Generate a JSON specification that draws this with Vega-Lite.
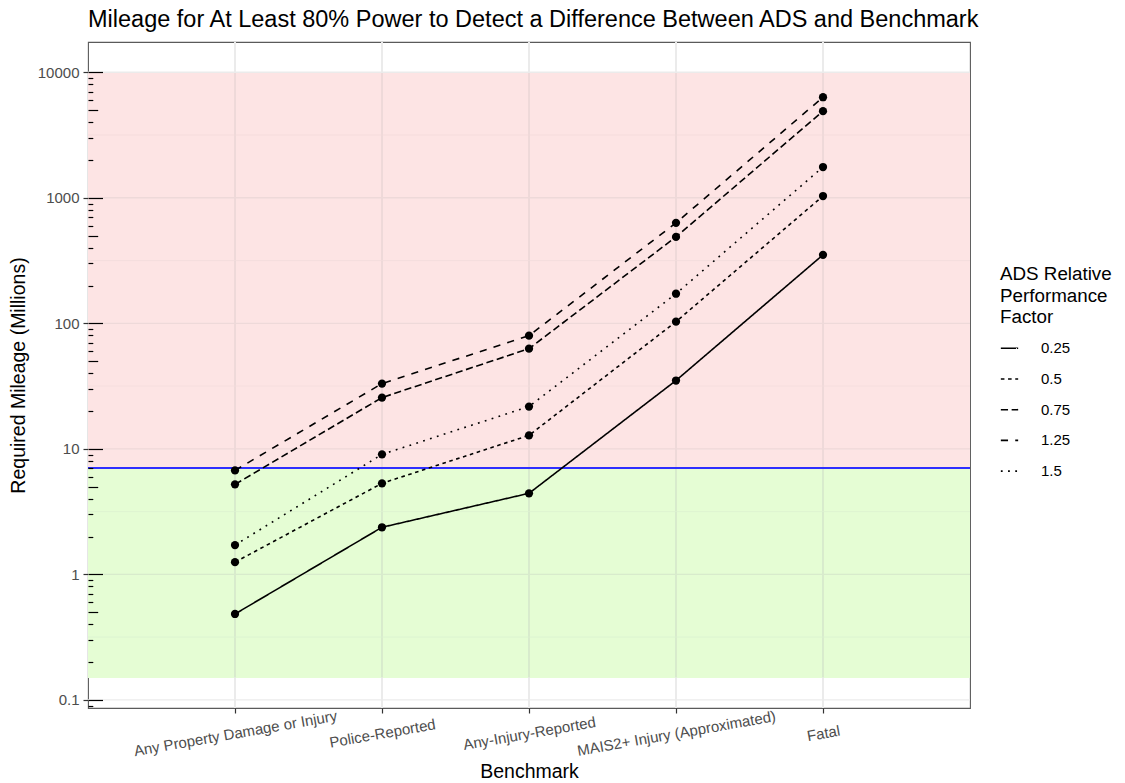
{
  "$schema": "https://vega.github.io/schema/vega-lite/v6.json",
  "autosize": {"type": "none"},
  "padding": {"left": 88, "top": 42, "right": 155, "bottom": 75},
  "width": 882,
  "height": 666,
  "config": {
    "font": "Liberation Sans",
    "view": {"stroke": "#5a5a5a", "strokeWidth": 1.1}
  },
  "title": {
    "text": "Mileage for At Least 80% Power to Detect a Difference Between ADS and Benchmark",
    "anchor": "start",
    "frame": "group",
    "fontSize": 23.5,
    "fontWeight": "normal",
    "color": "black",
    "baseline": "alphabetic",
    "offset": 14,
    "dy": 23
  },
  "datasets": {
    "mileage": [
      {"benchmark": "Any Property Damage or Injury", "factor": "0.25", "miles": 0.483},
      {"benchmark": "Any Property Damage or Injury", "factor": "0.5", "miles": 1.25},
      {"benchmark": "Any Property Damage or Injury", "factor": "0.75", "miles": 5.21},
      {"benchmark": "Any Property Damage or Injury", "factor": "1.25", "miles": 6.73},
      {"benchmark": "Any Property Damage or Injury", "factor": "1.5", "miles": 1.71},
      {"benchmark": "Police-Reported", "factor": "0.25", "miles": 2.37},
      {"benchmark": "Police-Reported", "factor": "0.5", "miles": 5.31},
      {"benchmark": "Police-Reported", "factor": "0.75", "miles": 25.6},
      {"benchmark": "Police-Reported", "factor": "1.25", "miles": 33.1},
      {"benchmark": "Police-Reported", "factor": "1.5", "miles": 9.03},
      {"benchmark": "Any-Injury-Reported", "factor": "0.25", "miles": 4.42},
      {"benchmark": "Any-Injury-Reported", "factor": "0.5", "miles": 12.8},
      {"benchmark": "Any-Injury-Reported", "factor": "0.75", "miles": 62.8},
      {"benchmark": "Any-Injury-Reported", "factor": "1.25", "miles": 79.7},
      {"benchmark": "Any-Injury-Reported", "factor": "1.5", "miles": 21.7},
      {"benchmark": "MAIS2+ Injury (Approximated)", "factor": "0.25", "miles": 35.0},
      {"benchmark": "MAIS2+ Injury (Approximated)", "factor": "0.5", "miles": 103},
      {"benchmark": "MAIS2+ Injury (Approximated)", "factor": "0.75", "miles": 488},
      {"benchmark": "MAIS2+ Injury (Approximated)", "factor": "1.25", "miles": 631},
      {"benchmark": "MAIS2+ Injury (Approximated)", "factor": "1.5", "miles": 172},
      {"benchmark": "Fatal", "factor": "0.25", "miles": 351},
      {"benchmark": "Fatal", "factor": "0.5", "miles": 1033},
      {"benchmark": "Fatal", "factor": "0.75", "miles": 4898},
      {"benchmark": "Fatal", "factor": "1.25", "miles": 6325},
      {"benchmark": "Fatal", "factor": "1.5", "miles": 1758}
    ],
    "gridWhiteMajor": [{"v": 0.1}, {"v": 10000}],
    "gridPinkMajor": [{"v": 10}, {"v": 100}, {"v": 1000}],
    "gridPinkMinor": [{"v": 31.62}, {"v": 316.2}, {"v": 3162}],
    "gridGreenMajor": [{"v": 1}],
    "gridGreenMinor": [{"v": 0.3162}, {"v": 3.162}]
  },
  "data": {"name": "mileage"},
  "resolve": {"axis": {"y": "independent"}},
  "layer": [
    {
      "mark": {"type": "rect", "fill": "#fde4e4", "strokeWidth": 0},
      "encoding": {
        "y": {
          "datum": 7, "type": "quantitative",
          "scale": {"type": "log", "domain": [0.0861, 17420], "nice": false, "zero": false},
          "axis": {
            "orient": "left",
            "values": [0.09, 0.2, 0.3, 0.4, 0.6, 0.7, 0.8, 0.9, 2, 3, 4, 6, 7, 8, 9, 20, 30, 40, 60, 70, 80, 90, 200, 300, 400, 600, 700, 800, 900, 2000, 3000, 4000, 6000, 7000, 8000, 9000],
            "grid": false, "labels": false, "domain": false, "title": null,
            "tickSize": -4.8, "tickColor": "#000000", "tickWidth": 1.2, "zindex": 1
          }
        },
        "y2": {"datum": 10000}
      }
    },
    {
      "mark": {"type": "rect", "fill": "#e5fdd4", "strokeWidth": 0},
      "encoding": {
        "y": {
          "datum": 0.15, "type": "quantitative",
          "scale": {"type": "log", "domain": [0.0861, 17420], "nice": false, "zero": false},
          "axis": {
            "orient": "left",
            "values": [0.1, 0.5, 1, 5, 10, 50, 100, 500, 1000, 5000, 10000],
            "grid": false, "labels": false, "domain": false, "title": null,
            "tickSize": {"condition": {"test": "indexof([0.1, 1, 10, 100, 1000, 10000], datum.value) >= 0", "value": -14.5}, "value": -9.7},
            "tickColor": "#000000", "tickWidth": 1.2, "zindex": 1
          }
        },
        "y2": {"datum": 7}
      }
    },
    {
      "mark": {"type": "rule", "color": "#ebebeb", "strokeWidth": 1.3},
      "encoding": {
        "x": {"field": "benchmark", "type": "nominal"},
        "y": {"datum": 10000, "type": "quantitative", "axis": null},
        "y2": {"datum": 17420}
      }
    },
    {
      "mark": {"type": "rule", "color": "#eed9d9", "strokeWidth": 1.3},
      "encoding": {
        "x": {"field": "benchmark", "type": "nominal"},
        "y": {"datum": 7, "type": "quantitative", "axis": null},
        "y2": {"datum": 10000}
      }
    },
    {
      "mark": {"type": "rule", "color": "#d8ebcc", "strokeWidth": 1.3},
      "encoding": {
        "x": {"field": "benchmark", "type": "nominal"},
        "y": {"datum": 0.15, "type": "quantitative", "axis": null},
        "y2": {"datum": 7}
      }
    },
    {
      "mark": {"type": "rule", "color": "#ebebeb", "strokeWidth": 1.3},
      "encoding": {
        "x": {"field": "benchmark", "type": "nominal"},
        "y": {"datum": 0.0861, "type": "quantitative", "axis": null},
        "y2": {"datum": 0.15}
      }
    },
    {
      "data": {"name": "gridWhiteMajor"},
      "mark": {"type": "rule", "color": "#ebebeb", "strokeWidth": 1.3},
      "encoding": {"y": {"field": "v", "type": "quantitative", "axis": null}}
    },
    {
      "data": {"name": "gridPinkMajor"},
      "mark": {"type": "rule", "color": "#eed9d9", "strokeWidth": 1.3},
      "encoding": {"y": {"field": "v", "type": "quantitative", "axis": null}}
    },
    {
      "data": {"name": "gridPinkMinor"},
      "mark": {"type": "rule", "color": "#f3dcdc", "strokeWidth": 0.8},
      "encoding": {"y": {"field": "v", "type": "quantitative", "axis": null}}
    },
    {
      "data": {"name": "gridGreenMajor"},
      "mark": {"type": "rule", "color": "#d8ebcc", "strokeWidth": 1.3},
      "encoding": {"y": {"field": "v", "type": "quantitative", "axis": null}}
    },
    {
      "data": {"name": "gridGreenMinor"},
      "mark": {"type": "rule", "color": "#dcf2d0", "strokeWidth": 0.8},
      "encoding": {"y": {"field": "v", "type": "quantitative", "axis": null}}
    },
    {
      "mark": {"type": "rule", "color": "#2f2fff", "strokeWidth": 1.5},
      "encoding": {
        "y": {"datum": 7, "type": "quantitative", "axis": null}
      }
    },
    {
      "mark": {"type": "line", "color": "black", "strokeWidth": 1.6},
      "encoding": {
        "x": {
          "field": "benchmark", "type": "nominal",
          "scale": {"type": "point", "padding": 1, "domain": ["Any Property Damage or Injury", "Police-Reported", "Any-Injury-Reported", "MAIS2+ Injury (Approximated)", "Fatal"]},
          "axis": {
            "title": "Benchmark", "titleFontSize": 19.5, "titleFontWeight": "normal", "titleColor": "black",
            "titleY": 63, "titleBaseline": "middle",
            "labelAngle": -10, "labelAlign": "center", "labelBaseline": "middle", "labelPadding": 20,
            "labelFontSize": 15, "labelColor": "#4d4d4d", "labelLimit": 0, "labelOverlap": false,
            "tickSize": 5, "tickColor": "#333333", "tickWidth": 1.2,
            "grid": false, "domain": false
          }
        },
        "y": {
          "field": "miles", "type": "quantitative",
          "scale": {"type": "log", "domain": [0.0861, 17420], "nice": false, "zero": false},
          "axis": {
            "orient": "left",
            "values": [0.1, 1, 10, 100, 1000, 10000], "format": "~g",
            "title": "Required Mileage (Millions)", "titleFontSize": 19.5, "titleFontWeight": "normal", "titleColor": "black",
            "titleX": -70, "titleBaseline": "middle",
            "labelFontSize": 15, "labelColor": "#4d4d4d", "labelPadding": 4,
            "tickSize": 5, "tickColor": "#333333", "tickWidth": 1.2,
            "grid": false, "domain": false
          }
        },
        "strokeDash": {
          "field": "factor", "type": "nominal",
          "scale": {
            "domain": ["0.25", "0.5", "0.75", "1.25", "1.5"],
            "range": [[1, 0], [3.6, 3.6], [7.2, 3.6], [7.2, 7.2], [1.8, 5.4]]
          },
          "legend": {
            "orient": "none", "legendX": 912, "legendY": 223, "padding": 0,
            "title": ["ADS Relative", "Performance", "Factor"],
            "titleFontSize": 18.8, "titleFontWeight": "normal", "titleColor": "black", "titleLineHeight": 21.5,
            "titlePadding": 12,
            "labelFontSize": 15, "labelColor": "black", "labelOffset": 22,
            "symbolType": "stroke", "symbolSize": 300, "symbolStrokeWidth": 1.6, "symbolStrokeColor": "black",
            "rowPadding": 12.7
          }
        }
      }
    },
    {
      "mark": {"type": "point", "filled": true, "color": "black", "size": 68, "opacity": 1},
      "encoding": {
        "x": {"field": "benchmark", "type": "nominal"},
        "y": {"field": "miles", "type": "quantitative", "axis": null}
      }
    }
  ]
}
